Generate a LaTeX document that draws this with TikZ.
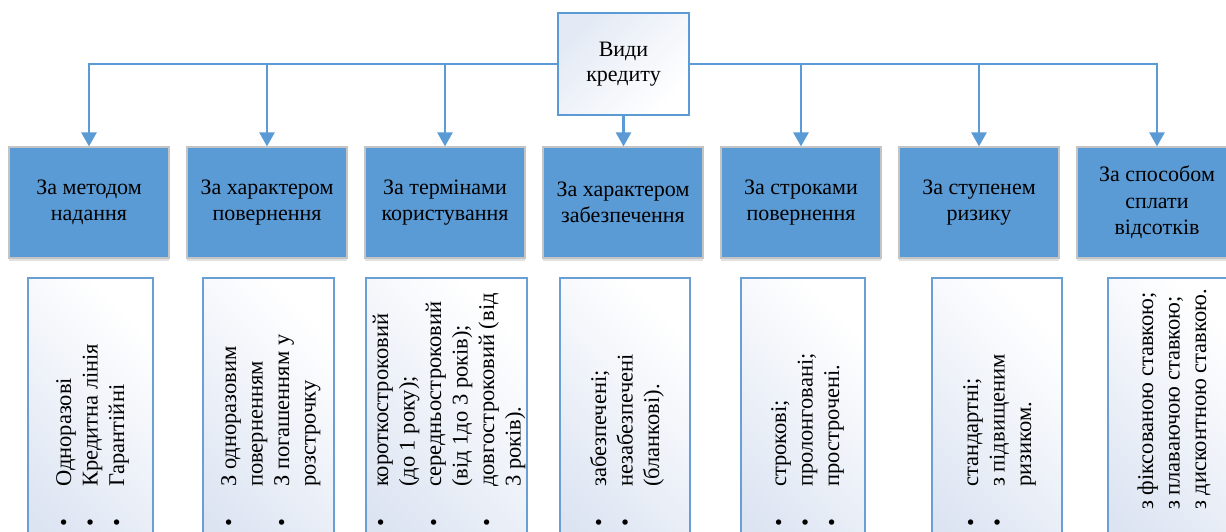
\documentclass[tikz,border=0pt]{standalone}
\usepackage{fontspec}
\setmainfont{Liberation Serif}
\usetikzlibrary{arrows.meta,shadows}
\definecolor{cblue}{HTML}{5B9BD5}
\definecolor{cedge}{HTML}{6A9FD6}
\definecolor{cgray}{HTML}{C4C4C4}
\definecolor{cgrad}{HTML}{DCE4F2}
\newcommand\itemrows[1]{\begin{tabular}[t]{@{}l@{\hspace{32.1pt}}l@{}}#1\end{tabular}}
\newcommand\plainrows[1]{\begin{tabular}[t]{@{}l@{}}#1\end{tabular}}
\tikzset{
  conn/.style={draw=cblue, line width=2.5pt, -{Triangle[width=15pt,length=14pt]}},
  rootbox/.style={draw=cblue, line width=1.8pt, top color=cgrad!80, bottom color=white, shading angle=45,
    minimum width=131pt, minimum height=102pt, align=center, inner sep=0pt,
    font=\fontsize{22}{25.5}\selectfont},
  catbox/.style={draw=cgray, line width=1.2pt, fill=cblue, minimum width=160pt, minimum height=111pt,
    align=center, inner sep=0pt, font=\fontsize{22}{26.5}\selectfont,
    drop shadow={shadow xshift=0pt, shadow yshift=-3pt, opacity=0.25, fill=black!45}},
  lowbox/.style={draw=cedge, line width=1.5pt, top color=white, bottom color=cgrad, shading angle=-45,
    anchor=north west, minimum height=300pt, inner sep=0pt},
  itemtext/.style={rotate=90, anchor=base west, inner sep=0pt, font=\fontsize{22.5}{26.5}\selectfont},
}
\begin{document}
\begin{tikzpicture}[x=1pt,y=1pt]
\useasboundingbox (0,0) rectangle (1226,-531);
\clip (0,0) rectangle (1226,-531);
\fill[white] (0,0) rectangle (1226,-531);

% root
\node[rootbox] (root) at (623.5,-64) {Види\\кредиту};

% category boxes
\node[catbox] (b1) at (89,-202.5)   {За методом\\надання};
\node[catbox] (b2) at (267,-202.5)  {За характером\\повернення};
\node[catbox] (b3) at (445,-202.5)  {За термінами\\користування};
\node[catbox] (b4) at (623,-202.5)  {За характером\\забезпечення};
\node[catbox] (b5) at (801,-202.5)  {За строками\\повернення};
\node[catbox] (b6) at (979,-202.5)  {За ступенем\\ризику};
\node[catbox] (b7) at (1157,-202.5) {За способом\\сплати\\відсотків};

% connectors
\draw[conn] (root.west) -| (b1.north);
\draw[conn] (root.west) -| (b2.north);
\draw[conn] (root.west) -| (b3.north);
\draw[conn] (root.south) -- (root.south |- b4.north);
\draw[conn] (root.east) -| (b5.north);
\draw[conn] (root.east) -| (b6.north);
\draw[conn] (root.east) -| (b7.north);

% lower boxes
\node[lowbox, minimum width=125pt] (l1) at (27,-277) {};
\node[lowbox, minimum width=131pt] (l2) at (202,-277) {};
\node[lowbox, minimum width=161pt] (l3) at (365,-277) {};
\node[lowbox, minimum width=130pt] (l4) at (559,-277) {};
\node[lowbox, minimum width=124pt] (l5) at (740,-277) {};
\node[lowbox, minimum width=130pt] (l6) at (931,-277) {};
\node[lowbox, minimum width=130pt] (l7) at (1107,-277) {};

% rotated lists
\node[itemtext] (t1) at (71,-527) {\itemrows{• & Одноразові\\ • & Кредитна лінія\\ • & Гарантійні}};
\node[itemtext] (t2) at (236,-527) {\itemrows{• & З одноразовим\\ & поверненням\\ • & З погашенням у\\ & розстрочку}};
\node[itemtext] (t3) at (388,-527) {\itemrows{• & короткостроковий\\ & (до 1 року);\\ • & середньостроковий\\ & (від 1до 3 років);\\ • & довгостроковий (від\\ & 3 років).}};
\node[itemtext] (t4) at (606,-527) {\itemrows{• & забезпечені;\\ • & незабезпечені\\ & (бланкові).}};
\node[itemtext] (t5) at (786,-527) {\itemrows{• & строкові;\\ • & пролонговані;\\ • & прострочені.}};
\node[itemtext] (t6) at (978,-527) {\itemrows{• & стандартні;\\ • & з підвищеним\\ & ризиком.}};
\node[itemtext] (t7) at (1153,-510) {\plainrows{з фіксованою ставкою;\\ з плаваючою ставкою;\\ з дисконтною ставкою.}};
\end{tikzpicture}
\end{document}
